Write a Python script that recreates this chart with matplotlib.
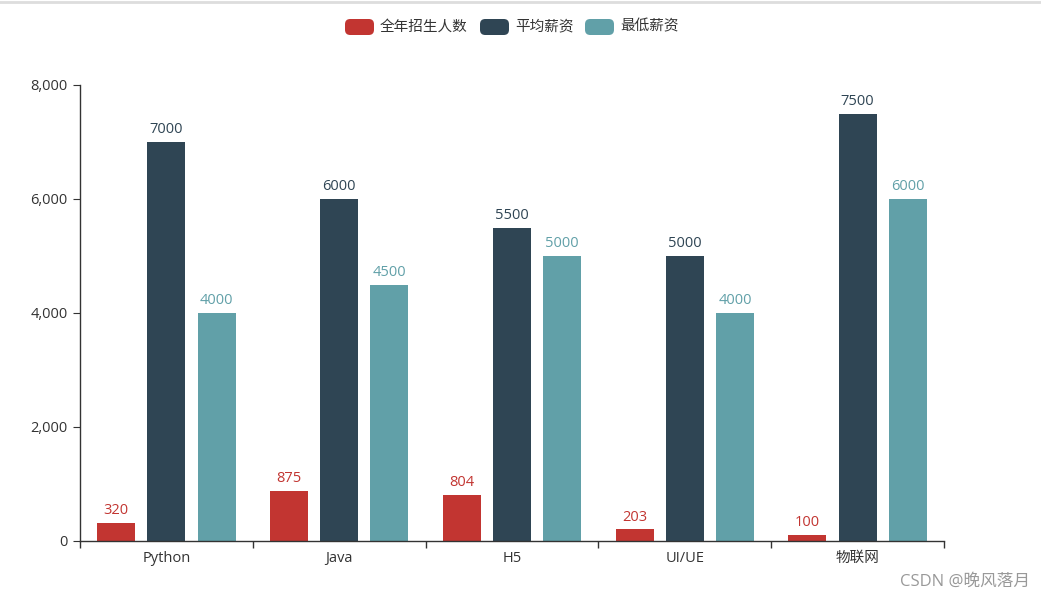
import matplotlib
matplotlib.use("Agg")
import matplotlib.pyplot as plt
import numpy as np
from matplotlib.patches import FancyBboxPatch
from matplotlib.lines import Line2D
from matplotlib.ticker import FuncFormatter, FixedLocator

plt.rcParams['font.family'] = ['Open Sans', 'Noto Sans CJK SC', 'DejaVu Sans']

categories = ["Python", "Java", "H5", "UI/UE", "物联网"]
series_names = ["全年招生人数", "平均薪资", "最低薪资"]
enroll = [320, 875, 804, 203, 100]
avg_salary = [7000, 6000, 5500, 5000, 7500]
min_salary = [4000, 4500, 5000, 4000, 6000]
yticks = [0, 2000, 4000, 6000, 8000]

colors = ["#c23531", "#2f4554", "#61a0a8"]
series = [enroll, avg_salary, min_salary]

fig = plt.figure(figsize=(10.41, 6.0), dpi=100)
ax = fig.add_axes([80/1041, 59/600, 864/1041, 456/600])

x = np.arange(len(categories))
bw = 0.22
offsets = [-0.29, 0.0, 0.29]
for vals, c, off in zip(series, colors, offsets):
    bars = ax.bar(x + off, vals, width=bw, color=c, zorder=2)
    for b, v in zip(bars, vals):
        ax.annotate(str(v), (b.get_x() + b.get_width()/2, v), xytext=(0, 3.5),
                    textcoords="offset points", ha="center", va="bottom",
                    fontsize=10.5, color=c)

ax.set_xlim(-0.5, len(categories) - 0.5)
ax.set_ylim(0, 8000)
ax.set_yticks(yticks)
ax.yaxis.set_major_formatter(FuncFormatter(lambda v, p: f"{int(v):,}"))
ax.xaxis.set_major_locator(FixedLocator(np.arange(len(categories) + 1) - 0.5))
ax.xaxis.set_minor_locator(FixedLocator(x))
ax.set_xticklabels([])
ax.set_xticklabels(categories, minor=True)
ax.tick_params(axis='x', which='minor', length=0, pad=7, labelsize=10.5, labelcolor="#333333")
ax.tick_params(axis='x', which='major', length=5, color="#333333", width=1)
ax.tick_params(axis='y', length=5, color="#333333", labelsize=10.5, labelcolor="#333333", pad=4)

for s in ["top", "right"]:
    ax.spines[s].set_visible(False)
for s in ["left", "bottom"]:
    ax.spines[s].set_color("#333333")
    ax.spines[s].set_linewidth(1)

# legend
legend_y = 1 - 27/600
icon_w, icon_h = 29/1041, 16/600
items_x = [345, 480, 585]
for name, c, px in zip(series_names, colors, items_x):
    fx = px/1041
    patch = FancyBboxPatch((fx, legend_y - icon_h/2), icon_w, icon_h,
                           boxstyle="round,pad=0,rounding_size=0.005",
                           transform=fig.transFigure, facecolor=c, edgecolor="none",
                           mutation_aspect=1041/600)
    fig.patches.append(patch)
    fig.text(fx + icon_w + 6/1041, legend_y, name, ha="left", va="center",
             fontsize=10.5, color="#333333")

# top gray line
fig.add_artist(Line2D([0, 1], [1 - 2/600, 1 - 2/600], transform=fig.transFigure,
                      color="#dddddd", linewidth=2))

# watermark
fig.text(1030/1041, 1 - 582/600, "CSDN @晚风落月", ha="right", va="center",
         fontsize=12, color="#999999")

fig.savefig("out.png", dpi=100)
